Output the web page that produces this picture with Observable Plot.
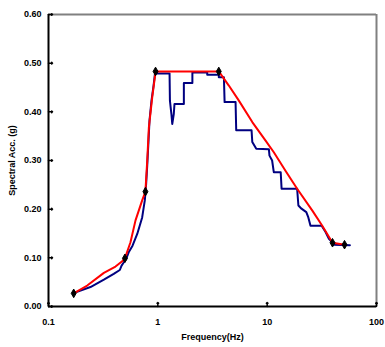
<!DOCTYPE html>
<html>
<head>
<meta charset="utf-8">
<script src="https://cdn.jsdelivr.net/npm/d3@7"></script>
<script src="https://cdn.jsdelivr.net/npm/@observablehq/plot@0.6"></script>
<style>
  html, body { margin: 0; padding: 0; background: #fff; }
  #chart svg { display: block; }
</style>
</head>
<body>
<div id="chart"></div>
<script>
// Design spectrum (red)
const redFreq = [0.17, 0.226, 0.321, 0.41, 0.472, 0.5, 0.562, 0.625, 0.719, 0.77, 0.80, 0.828, 0.889, 0.939, 0.953, 3.61, 4.46, 5.51, 7.31, 9.67, 11.5, 14.7, 18.8, 25.9, 31.9, 39.6, 51];
const redAcc  = [0.027, 0.043, 0.069, 0.082, 0.093, 0.099, 0.132, 0.177, 0.218, 0.236, 0.300, 0.368, 0.430, 0.471, 0.483, 0.483, 0.454, 0.423, 0.379, 0.341, 0.317, 0.279, 0.242, 0.197, 0.166, 0.131, 0.127];

// Control points (black diamonds)
const markerFreq = [0.17, 0.5, 0.77, 0.953, 3.61, 39.6, 51];
const markerAcc  = [0.027, 0.099, 0.236, 0.483, 0.483, 0.131, 0.127];

// Response spectrum (navy)
const blueFreq = [0.177, 0.242, 0.321, 0.395, 0.449, 0.466, 0.489, 0.514, 0.543, 0.587, 0.648, 0.719, 0.760, 0.780, 0.80, 0.822, 0.839, 0.875, 0.914, 0.942,
  1.28, 1.29, 1.33, 1.355, 1.40, 1.42, 1.73, 1.73, 2.07, 2.07, 2.83, 2.83, 3.61, 3.61, 4.02, 4.08, 5.14, 5.21, 7.20, 7.31, 7.95, 10.37, 10.5, 11.1, 11.5, 13.3, 13.55, 18.8, 19.3, 20.6, 22.8, 23.8, 24.9, 31.5, 34.2, 36.7, 39.4, 40.5, 57.1];
const blueAcc  = [0.029, 0.040, 0.055, 0.067, 0.075, 0.084, 0.091, 0.098, 0.112, 0.125, 0.149, 0.183, 0.218, 0.249, 0.290, 0.341, 0.382, 0.423, 0.454, 0.479,
  0.479, 0.423, 0.396, 0.375, 0.396, 0.416, 0.416, 0.459, 0.459, 0.481, 0.481, 0.476, 0.476, 0.471, 0.471, 0.420, 0.420, 0.362, 0.362, 0.338, 0.324, 0.323, 0.310, 0.300, 0.276, 0.276, 0.242, 0.242, 0.2075, 0.201, 0.194, 0.183, 0.166, 0.166, 0.153, 0.139, 0.132, 0.127, 0.126];

const xTicks = [0.1, 1, 10, 100];
const xTickLabels = ["0.1", "1", "10", "100"];
const yTicks = [0, 0.1, 0.2, 0.3, 0.4, 0.5, 0.6];

const red = redFreq.map((f, i) => ({f, a: redAcc[i]}));
const blue = blueFreq.map((f, i) => ({f, a: blueAcc[i]}));
const markers = markerFreq.map((f, i) => ({f, a: markerAcc[i]}));

const fontStyle = {fontFamily: "Liberation Sans, Arial, sans-serif", fontSize: "9px", fontWeight: "bold"};

const chart = Plot.plot({
  width: 385,
  height: 347,
  marginLeft: 48,
  marginRight: 9,
  marginTop: 14,
  marginBottom: 41,
  style: {...fontStyle, background: "#fff", color: "#000"},
  x: {type: "log", domain: [0.1, 100]},
  y: {domain: [0, 0.6]},
  marks: [
    Plot.ruleY([0.6], {stroke: "#808080", strokeWidth: 2}),
    Plot.ruleX([100], {stroke: "#808080", strokeWidth: 2}),
    Plot.line(blue, {x: "f", y: "a", stroke: "#000080", strokeWidth: 2, curve: "linear"}),
    Plot.line(red, {x: "f", y: "a", stroke: "#ff0000", strokeWidth: 2, curve: "linear"}),
    Plot.dot(markers, {x: "f", y: "a", symbol: "diamond", r: 2.6, fill: "#000", stroke: "#000", strokeWidth: 1}),
    Plot.ruleX([0.1], {stroke: "#000", strokeWidth: 2}),
    Plot.ruleY([0], {stroke: "#000", strokeWidth: 2}),
    Plot.vectorY(yTicks, {x: 0.1, y: d => d, length: 4, rotate: 90, anchor: "start", stroke: "#000", strokeWidth: 1.5}),
    Plot.vectorX(xTicks, {x: d => d, y: 0, length: 4, anchor: "start", stroke: "#000", strokeWidth: 1.5}),
    Plot.axisY(yTicks, {tickSize: 0, tickPadding: 7, tickFormat: d => d.toFixed(2), label: "Spectral Acc. (g)", labelAnchor: "center", labelArrow: "none", labelOffset: 40}),
    Plot.axisX(xTicks, {tickSize: 0, tickPadding: 12, tickFormat: d => xTickLabels[xTicks.indexOf(d)], label: "Frequency(Hz)", labelAnchor: "center", labelArrow: "none", labelOffset: 33})
  ]
});
document.getElementById("chart").appendChild(chart);
</script>
</body>
</html>
